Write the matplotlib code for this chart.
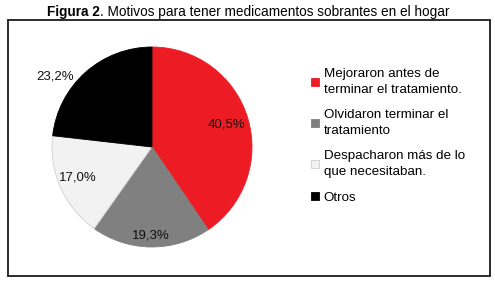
import matplotlib
matplotlib.use("Agg")
import matplotlib.pyplot as plt
import numpy as np
from matplotlib.patches import Rectangle
from matplotlib.lines import Line2D

categories = ["Mejoraron antes de\nterminar el tratamiento.",
              "Olvidaron terminar el\ntratamiento",
              "Despacharon más de lo\nque necesitaban.",
              "Otros"]
values = [40.5, 19.3, 17.0, 23.2]
pct_labels = ["40,5%", "19,3%", "17,0%", "23,2%"]
colors = ["#ED1C24", "#808080", "#F2F2F2", "#000000"]

plt.rcParams['font.family'] = ['Liberation Sans', 'DejaVu Sans']

W, H = 495, 281
fig = plt.figure(figsize=(W / 100, H / 100), dpi=100)

# frame
fig.patches.append(Rectangle((8 / W, (H - 275.5) / H), (490 - 8) / W, (275.5 - 20) / H,
                             transform=fig.transFigure, fill=False, edgecolor="#1a1a1a",
                             linewidth=1.3))

# title (bold + normal parts)
fs_title = 9.8
t1 = fig.text(0, 0, "Figura 2", fontsize=fs_title, fontweight="bold")
t2 = fig.text(0, 0, ". Motivos para tener medicamentos sobrantes en el hogar", fontsize=fs_title)
fig.canvas.draw()
r = fig.canvas.get_renderer()
w1 = t1.get_window_extent(r).width
w2 = t2.get_window_extent(r).width
x0 = 248.5 - (w1 + w2) / 2
yb = (H - 16) / H
t1.set_position((x0 / W, yb))
t2.set_position(((x0 + w1) / W, yb))

# pie
cx, cy, R = 152, 147, 102
ax = fig.add_axes([(cx - R) / W, (H - cy - R) / H, 2 * R / W, 2 * R / H])
wedges, _ = ax.pie(values, colors=colors, startangle=90, counterclock=False, radius=1,
                   wedgeprops=dict(linewidth=0.6, edgecolor="#d0d0d0"))
wedges[0].set_edgecolor(colors[0])
wedges[1].set_edgecolor(colors[1])
wedges[3].set_edgecolor(colors[3])
ax.set_xlim(-1.02, 1.02)
ax.set_ylim(-1.02, 1.02)
ax.set_aspect("equal")
ax.axis("off")

label_r = [0.78, 0.89, 0.80, 1.2]
label_off = [0, 0, -2, 12]
cum = np.cumsum([0] + values)
for i, v in enumerate(values):
    mid = 90 - (cum[i] + v / 2) * 3.6 + label_off[i]
    a = np.deg2rad(mid)
    ax.text(label_r[i] * np.cos(a), label_r[i] * np.sin(a), pct_labels[i],
            ha="center", va="center", fontsize=9.5, color="#111111", clip_on=False)

# legend
handles = [Line2D([], [], marker="s", linestyle="none", markersize=5.5,
                  markerfacecolor=c, markeredgecolor=("#cccccc" if c == "#F2F2F2" else c),
                  markeredgewidth=0.6) for c in colors]
leg = fig.legend(handles, categories, loc="upper left",
                 bbox_to_anchor=(311 / W, (H - 68) / H), frameon=False,
                 fontsize=9.6, handlelength=0.6, handletextpad=0.35,
                 labelspacing=1.0, borderaxespad=0, borderpad=0)
for t in leg.get_texts():
    t.set_linespacing(1.42)

fig.savefig("out.png", dpi=100)
